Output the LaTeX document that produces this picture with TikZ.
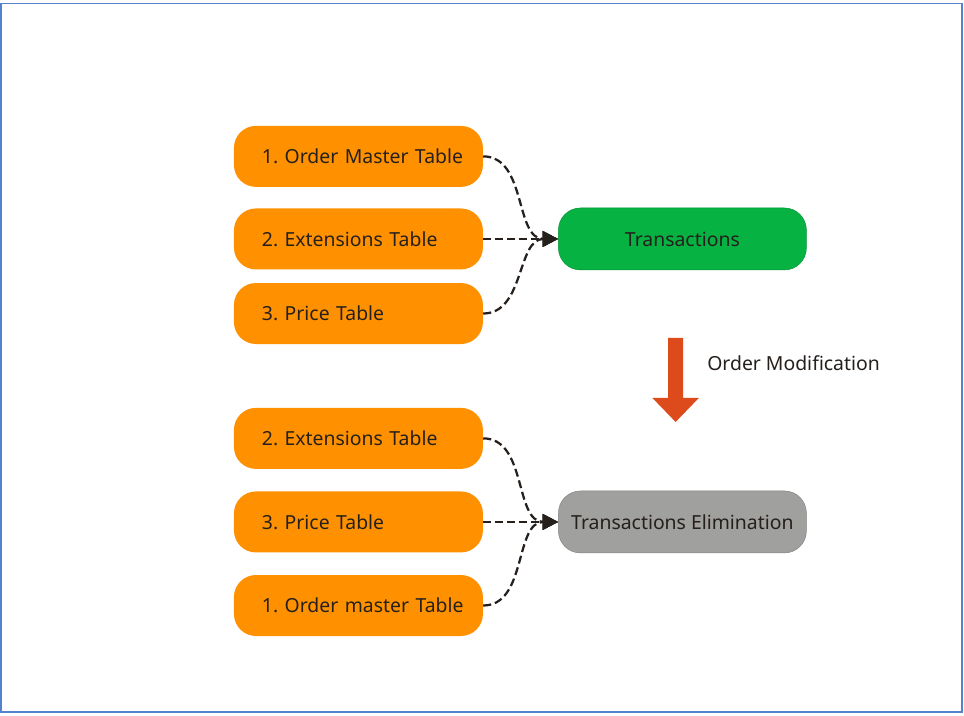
\documentclass[tikz,border=0pt]{standalone}
\usepackage{fontspec}
\setmainfont{Noto Sans}
\frenchspacing
\hyphenpenalty=10000
\hfuzz=30pt
\usetikzlibrary{arrows.meta,positioning,calc}
\definecolor{Naranja}{RGB}{255,145,0}
\definecolor{VerdeTrans}{RGB}{6,178,66}
\definecolor{GrisElim}{RGB}{160,160,158}
\definecolor{RojoFlecha}{RGB}{221,74,28}
\definecolor{Tinta}{RGB}{38,32,28}
\definecolor{Marco}{RGB}{86,130,205}
\tikzset{
  tablebox/.style={fill=Naranja, rounded corners=0.55cm, align=left,
    text width=4.825cm, minimum height=1.525cm, inner xsep=0.7cm,
    font=\fontsize{13.8}{16}\selectfont, text=Tinta},
  resultbox/.style={fill=#1, draw=#1!80!black, line width=0.3pt, rounded corners=0.55cm,
    align=center, minimum width=6.2cm, minimum height=1.55cm,
    font=\fontsize{13.8}{16}\selectfont, text=Tinta},
  resultbox/.default=VerdeTrans,
  linkarr/.style={-{Triangle[length=11pt, width=11pt]}, line width=1.6pt, Tinta,
    dash pattern=on 5.7pt off 2.8pt},
}
\begin{document}
\begin{tikzpicture}
    \draw[Marco, line width=1.2pt] (0.02,-0.09) rectangle (24.05,-17.8);
    \useasboundingbox (0,0) rectangle (24.1,-17.9);
    % ---- antes de la modificacion ----
    \node[tablebox] (t1) at (8.96,-3.91) {1.~Order~Master~Table};
    \node[tablebox, below=0.525cm of t1] (t2) {2.~Extensions~Table};
    \node[tablebox, below=0.325cm of t2] (t3) {3.~Price~Table};
    \node[resultbox, right=1.875cm of t2] (trans) {Transactions};
    \draw[linkarr] (t1.east) to[out=0, in=180] (trans.west);
    \draw[linkarr] (t2.east) -- (trans.west);
    \draw[linkarr] (t3.east) to[out=0, in=180] (trans.west);
    % ---- flecha de modificacion ----
    \coordinate (mod) at (16.89,-8.45);
    \fill[RojoFlecha] ($(mod)+(-0.19,0)$) -- ++(0.38,0) -- ++(0,-1.5) -- ++(0.39,0)
      -- ($(mod)+(0,-2.1)$) -- ($(mod)+(-0.58,-1.5)$) -- ++(0.39,0) -- cycle;
    \node[anchor=west, font=\fontsize{13.8}{16}\selectfont, text=Tinta, inner sep=0pt]
      (modlabel) at (17.675,-9.075) {Order Modification};
    % ---- despues de la modificacion ----
    \node[tablebox] (p1) at (8.96,-10.96) {2.~Extensions~Table};
    \node[tablebox, below=0.55cm of p1] (p2) {3.~Price~Table};
    \node[tablebox, below=0.55cm of p2] (p3) {1.~Order~master~Table};
    \node[resultbox=GrisElim, right=1.875cm of p2] (elim) {Transactions Elimination};
    \draw[linkarr] (p1.east) to[out=0, in=180] (elim.west);
    \draw[linkarr] (p2.east) -- (elim.west);
    \draw[linkarr] (p3.east) to[out=0, in=180] (elim.west);
  \end{tikzpicture}
\end{document}
